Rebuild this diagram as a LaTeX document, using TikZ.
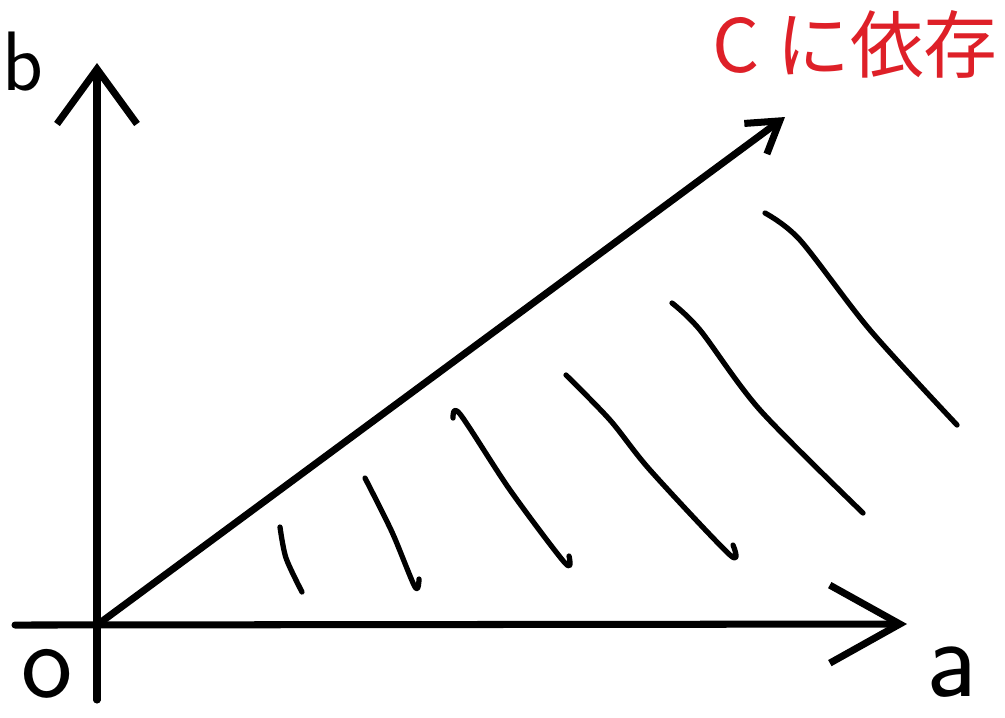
\documentclass[tikz,border=0pt]{standalone}
\usepackage{fontspec}
\newfontfamily\jpfont{Noto Sans CJK JP}
\usetikzlibrary{arrows.meta}
\definecolor{penred}{RGB}{222,32,40}
\tikzset{
    axisline/.style={line width=2pt, line cap=round},
    hatch/.style={line width=1.5pt, line cap=round, line join=round},
    hand/.style={inner sep=0pt, font=\sffamily},
}
\begin{document}
\begin{tikzpicture}[x=0.1mm, y=-0.1mm]
    \useasboundingbox (0,0) rectangle (1005,717);
    % axes
    \coordinate (O) at (97,625);
    \coordinate (aStart) at (15,625);
    \coordinate (aEnd) at (907,624);
    \coordinate (bStart) at (97,700);
    \coordinate (bEnd) at (97,63);
    \coordinate (cEnd) at (785,117);
    \draw[axisline, -{Straight Barb[length=5.5mm, width=8mm, line width=2pt]}] (bStart) -- (bEnd);
    \draw[axisline, -{Straight Barb[length=7mm, width=7.8mm, line width=2pt]}] (aStart) -- (aEnd);
    \draw[axisline, -{Straight Barb[length=3mm, width=3.8mm, line width=2pt]}] (O) -- (cEnd);

    % hatching under the ray
    \draw[hatch] plot[smooth] coordinates {(280,527) (286,558) (302,592)};
    \draw[hatch] plot[smooth] coordinates {(365,478) (392,532) (415,587) (419,579)};
    \draw[hatch] plot[smooth] coordinates {(453,418) (460,414) (510,490) (565,563) (569,556)};
    \draw[hatch] plot[smooth] coordinates {(566,375) (610,420) (650,470) (730,555) (733,545)};
    \draw[hatch] plot[smooth] coordinates {(672,303) (700,330) (760,410) (863,513)};
    \draw[hatch] plot[smooth] coordinates {(765,213) (800,240) (870,330) (957,425)};

    % labels
    \node[hand, font=\sffamily\fontsize{24}{24}\selectfont] (bLabel) at (23,62) {b};
    \node[hand, font=\sffamily\fontsize{31}{31}\selectfont] (oLabel) at (47,674) {o};
    \node[hand, font=\sffamily\fontsize{32}{32}\selectfont] (aLabel) at (952,672) {a};
    \node[inner sep=0pt, anchor=base west, text=penred, font=\jpfont\fontsize{21}{21}\selectfont] (cNote) at (712,72) {C に依存};
\end{tikzpicture}
\end{document}
